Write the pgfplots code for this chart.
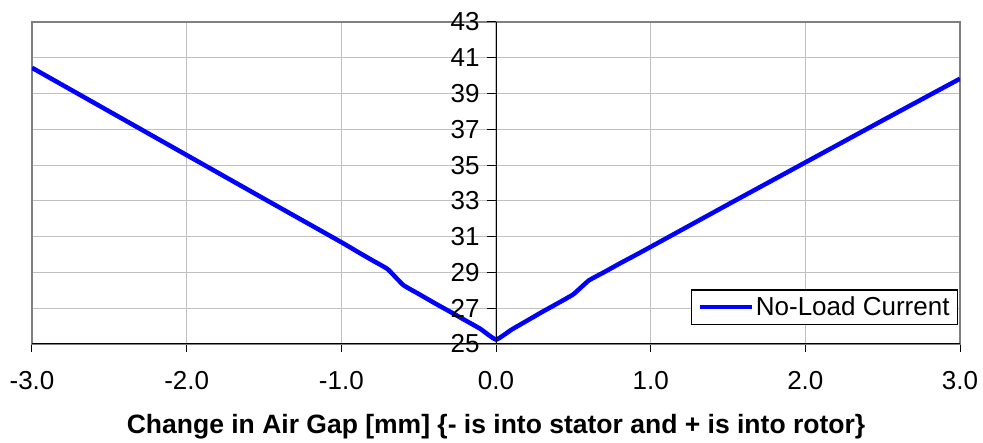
\documentclass[border=0pt]{standalone}
\usepackage{pgfplots}
\pgfplotsset{compat=1.18}
\usepackage{pgfplotstable}
\usepackage{fontspec}
\setmainfont{Liberation Sans}

\pgfplotstableread{
x y
-3.0 40.44
-2.5 38.00
-2.0 35.56
-1.5 33.12
-1.0 30.69
-0.9 30.18
-0.8 29.68
-0.7 29.18
-0.6 28.30
-0.5 27.80
-0.4 27.30
-0.3 26.82
-0.2 26.33
-0.1 25.84
0.0 25.25
0.1 25.80
0.2 26.30
0.3 26.80
0.4 27.28
0.5 27.78
0.6 28.55
0.7 29.02
0.8 29.50
0.9 29.96
1.0 30.43
1.5 32.80
2.0 35.15
2.5 37.50
3.0 39.83
}\datatable

\definecolor{gridgray}{RGB}{192,192,192}
\definecolor{framegray}{RGB}{128,128,128}

\begin{document}
\begin{tikzpicture}[font=\fontsize{26bp}{30bp}\selectfont]
\useasboundingbox (0,0) rectangle (983bp,443bp);
\begin{axis}[
  at={(32bp,99bp)}, anchor=south west,
  width=928bp, height=322bp, scale only axis,
  xmin=-3, xmax=3, ymin=25, ymax=43,
  xtick={-3,-2,-1,0,1,2,3},
  xticklabels={-3.0,-2.0,-1.0,0.0,1.0,2.0,3.0},
  ytick={25,27,29,31,33,35,37,39,41,43},
  yticklabels={},
  ytick style={draw=none},
  xtick pos=left,
  tick align=outside,
  major tick length=8bp,
  xtick style={black, line width=1bp},
  grid=major,
  grid style={gridgray, line width=1.2bp},
  axis line style={framegray, line width=2bp},
  xticklabel style={yshift=-16bp},
  xlabel={\bfseries Change in Air Gap [mm] \{- is into stator and + is into rotor\}},
  xlabel style={at={(rel axis cs:0.5,0)}, anchor=center, yshift=-83bp, font=\fontsize{26.5bp}{30bp}\selectfont\bfseries},
  legend style={at={(rel axis cs:0.998,0.059)}, anchor=south east, draw=black, line width=1.2bp, inner xsep=6bp, inner ysep=5bp, font=\fontsize{26bp}{30bp}\selectfont},
  legend cell align=left,
  legend image code/.code={\draw[#1] (0bp,0bp) -- (52bp,0bp);},
]
\addplot[blue, line width=4.5bp, smooth, tension=0.25] table {\datatable};
\addlegendentry{No-Load Current}
\draw[black, line width=1.5bp] (rel axis cs:0,0) -- (rel axis cs:1,0);
\end{axis}
\begin{axis}[
  at={(32bp,99bp)}, anchor=south west,
  width=928bp, height=322bp, scale only axis,
  xmin=-3, xmax=3, ymin=25, ymax=43,
  axis x line=none, axis y line=center,
  axis line style={-, black, line width=1bp},
  ytick={25,27,29,31,33,35,37,39,41,43},
  yticklabels={25,27,29,31,33,35,37,39,41,43},
  tick align=outside,
  major tick length=9bp,
  ytick style={black, line width=1bp},
  yticklabel style={anchor=east, xshift=-4bp},
]
\end{axis}
\end{tikzpicture}
\end{document}
